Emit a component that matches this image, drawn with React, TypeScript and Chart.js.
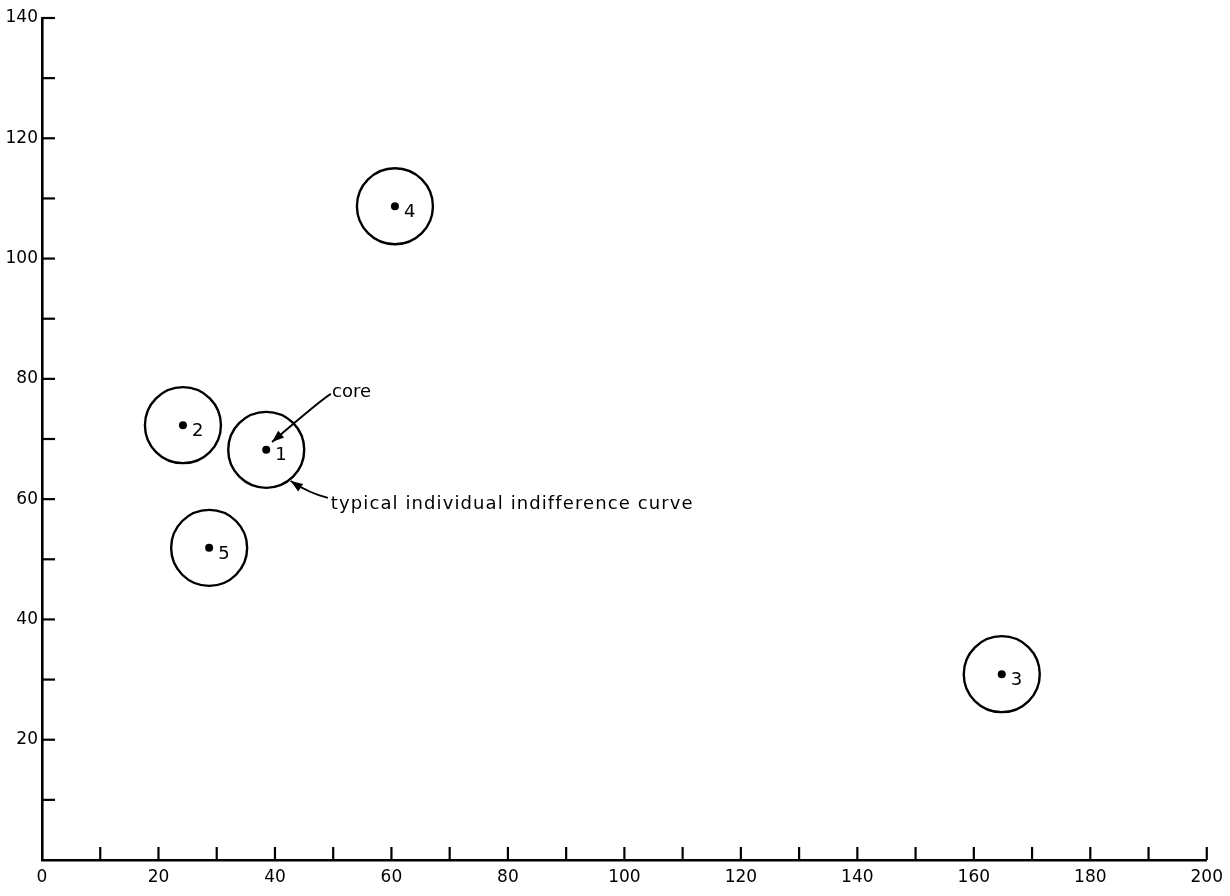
import React, { useEffect, useRef } from "react";
import { Chart, registerables } from "chart.js";

Chart.register(...registerables);

// ---- data ----
const pointLabels = ["1", "2", "3", "4", "5"];
const xValues = [38.5, 24.2, 164.8, 60.6, 28.7];
const yValues = [68.2, 72.3, 30.9, 108.7, 51.9];

const xTickLabels = [0, 20, 40, 60, 80, 100, 120, 140, 160, 180, 200];
const yTickLabels = [20, 40, 60, 80, 100, 120, 140];
const xMin = 0;
const xMax = 200;
const yMin = 0;
const yMax = 140;
const minorStep = 10;

const coreText = "core";
const coreTextPos = [49.8, 77.0];
const coreArrow = [
  [49.6, 77.5],
  [47.9, 76.5],
  [39.5, 69.5],
];
const curveText = "typical individual indifference curve";
const curveTextPos = [49.6, 58.4];
const curveArrow = [
  [49.1, 60.2],
  [46.0, 60.9],
  [42.7, 63.0],
];

const FONT = "'DejaVu Sans', sans-serif";

const overlayPlugin = {
  id: "overlay",
  afterDraw(chart: any) {
    const { ctx, scales, chartArea } = chart;
    const xs = scales.x;
    const ys = scales.y;
    ctx.save();
    // inward tick marks
    ctx.strokeStyle = "#000";
    ctx.lineWidth = 2.2;
    ctx.lineCap = "butt";
    xs.ticks.forEach((t: any) => {
      if (t.value === xMin) return;
      const px = xs.getPixelForValue(t.value);
      ctx.beginPath();
      ctx.moveTo(px, chartArea.bottom);
      ctx.lineTo(px, chartArea.bottom - 13);
      ctx.stroke();
    });
    ys.ticks.forEach((t: any) => {
      if (t.value === yMin) return;
      const py = ys.getPixelForValue(t.value);
      ctx.beginPath();
      ctx.moveTo(chartArea.left, py);
      ctx.lineTo(chartArea.left + 13, py);
      ctx.stroke();
    });

    // point labels
    ctx.fillStyle = "#000";
    ctx.font = `18px ${FONT}`;
    ctx.textAlign = "left";
    ctx.textBaseline = "middle";
    pointLabels.forEach((lab, i) => {
      const px = xs.getPixelForValue(xValues[i]);
      const py = ys.getPixelForValue(yValues[i]);
      ctx.fillText(lab, px + 9, py + 6);
    });

    // annotations
    const drawArrow = (pts: number[][]) => {
      const p = pts.map((q) => [xs.getPixelForValue(q[0]), ys.getPixelForValue(q[1])]);
      ctx.lineWidth = 1.8;
      ctx.beginPath();
      ctx.moveTo(p[0][0], p[0][1]);
      ctx.quadraticCurveTo(p[1][0], p[1][1], p[2][0], p[2][1]);
      ctx.stroke();
      const ang = Math.atan2(p[2][1] - p[1][1], p[2][0] - p[1][0]);
      const L = 12;
      const W = 4.5;
      const bx = p[2][0] - L * Math.cos(ang);
      const by = p[2][1] - L * Math.sin(ang);
      ctx.beginPath();
      ctx.moveTo(p[2][0], p[2][1]);
      ctx.lineTo(bx + W * Math.sin(ang), by - W * Math.cos(ang));
      ctx.lineTo(bx - W * Math.sin(ang), by + W * Math.cos(ang));
      ctx.closePath();
      ctx.fill();
    };
    drawArrow(coreArrow);
    drawArrow(curveArrow);

    ctx.textBaseline = "alphabetic";
    ctx.font = `18px ${FONT}`;
    ctx.fillText(coreText, xs.getPixelForValue(coreTextPos[0]), ys.getPixelForValue(coreTextPos[1]));
    try {
      (ctx as any).letterSpacing = "1.1px";
    } catch (e) {}
    ctx.fillText(curveText, xs.getPixelForValue(curveTextPos[0]), ys.getPixelForValue(curveTextPos[1]));
    try {
      (ctx as any).letterSpacing = "0px";
    } catch (e) {}
    ctx.restore();
  },
};

export default function App() {
  const ref = useRef<HTMLCanvasElement | null>(null);
  useEffect(() => {
    if (!ref.current) return;
    const pts = xValues.map((x, i) => ({ x, y: yValues[i] }));
    const chart = new Chart(ref.current, {
      type: "scatter",
      data: {
        datasets: [
          {
            label: "indifference curves",
            data: pts,
            pointRadius: 38,
            pointHoverRadius: 38,
            pointBorderWidth: 2.4,
            pointBackgroundColor: "rgba(0,0,0,0)",
            pointBorderColor: "#000",
          },
          {
            label: "cores",
            data: pts,
            pointRadius: 4,
            pointHoverRadius: 4,
            pointBorderWidth: 0,
            pointBackgroundColor: "#000",
            pointBorderColor: "#000",
          },
        ],
      },
      options: {
        responsive: false,
        animation: false,
        events: [],
        layout: { autoPadding: false, padding: { top: 18, right: 23, left: 0, bottom: 0 } },
        plugins: {
          legend: { display: false },
          tooltip: { enabled: false },
        },
        scales: {
          x: {
            type: "linear",
            min: xMin,
            max: xMax,
            afterFit: (s: any) => {
              s.height = 36;
            },
            grid: { display: true, drawOnChartArea: false, drawTicks: false },
            border: { display: true, color: "#000", width: 2.6 },
            ticks: {
              stepSize: minorStep,
              autoSkip: false,
              maxRotation: 0,
              padding: 7,
              color: "#000",
              font: { family: FONT, size: 17 },
              callback: (v: any) => (xTickLabels.includes(Number(v)) ? String(v) : ""),
            },
          },
          y: {
            type: "linear",
            min: yMin,
            max: yMax,
            afterFit: (s: any) => {
              s.width = 42;
            },
            grid: { display: true, drawOnChartArea: false, drawTicks: false },
            border: { display: true, color: "#000", width: 2.6 },
            ticks: {
              stepSize: minorStep,
              autoSkip: false,
              padding: 4,
              color: "#000",
              font: { family: FONT, size: 17 },
              callback: (v: any) => (yTickLabels.includes(Number(v)) ? String(v) : ""),
            },
          },
        },
      },
      plugins: [overlayPlugin],
    });
    return () => chart.destroy();
  }, []);
  return (
    <div style={{ position: "absolute", left: 0, top: 0, width: 1230, height: 896, background: "#fff" }}>
      <canvas ref={ref} width={1230} height={896} style={{ display: "block" }} />
    </div>
  );
}
